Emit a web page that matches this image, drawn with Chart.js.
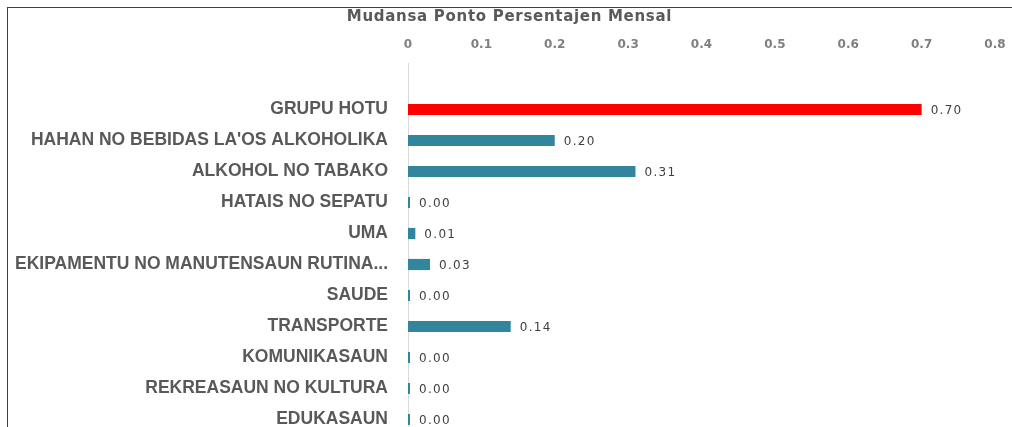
<!DOCTYPE html>
<html>
<head>
<meta charset="utf-8">
<script src="https://cdn.jsdelivr.net/npm/chart.js@4"></script>
<style>
  html, body { margin: 0; padding: 0; background: #fff; overflow: hidden; }
  #wrap { position: relative; width: 1012px; height: 436px; }
  #frame { position: absolute; left: 7px; top: 7px; width: 1100px; height: 500px;
           border-left: 1px solid #404040; border-top: 1px solid #404040; pointer-events: none; }
</style>
</head>
<body>
<div id="wrap">
  <canvas id="chart" width="1012" height="436"></canvas>
  <div id="frame"></div>
</div>
<script>
// 카테고리 (첫 줄은 빈 행)
const categories = [
  '',
  'GRUPU HOTU',
  "HAHAN NO BEBIDAS LA'OS ALKOHOLIKA",
  'ALKOHOL NO TABAKO',
  'HATAIS NO SEPATU',
  'UMA',
  'EKIPAMENTU NO MANUTENSAUN RUTINA...',
  'SAUDE',
  'TRANSPORTE',
  'KOMUNIKASAUN',
  'REKREASAUN NO KULTURA',
  'EDUKASAUN',
];
const values = [null, 0.70, 0.20, 0.31, 0.00, 0.01, 0.03, 0.00, 0.14, 0.00, 0.00, 0.00];
const xTicks = [0, 0.1, 0.2, 0.3, 0.4, 0.5, 0.6, 0.7, 0.8];
const chartTitle = 'Mudansa Ponto Persentajen Mensal';

const RED = '#ff0000';
const TEAL = '#31859c';

// 제목, x축 눈금 자간 넓히기
function spaced(box, ctx, px) {
  if (!box || box._spaced) return;
  const orig = box.draw.bind(box);
  box.draw = (area) => {
    ctx.letterSpacing = px;
    orig(area);
    ctx.letterSpacing = '0px';
  };
  box._spaced = true;
}
const letterSpacing = {
  id: 'letterSpacing',
  beforeDraw(chart) {
    spaced(chart.titleBlock, chart.ctx, '0.7px');
    spaced(chart.scales.x, chart.ctx, '1px');
  },
};

// 막대 끝 값 라벨
const valueLabels = {
  id: 'valueLabels',
  afterDatasetsDraw(chart) {
    const ctx = chart.ctx;
    const meta = chart.getDatasetMeta(0);
    ctx.save();
    ctx.font = '12px "DejaVu Sans"';
    ctx.fillStyle = '#404040';
    ctx.textAlign = 'left';
    ctx.textBaseline = 'middle';
    ctx.letterSpacing = '1.3px';
    meta.data.forEach((bar, i) => {
      const v = values[i];
      if (v === null) return;
      ctx.fillText(v.toFixed(2), bar.x + 9, bar.y + 1);
    });
    ctx.letterSpacing = '0px';
    ctx.restore();
  },
};

new Chart(document.getElementById('chart'), {
  type: 'bar',
  data: {
    labels: categories,
    datasets: [{
      data: values,
      backgroundColor: values.map((v, i) => (i === 1 ? RED : TEAL)),
      barPercentage: 0.36,
      categoryPercentage: 1,
      minBarLength: 2,
    }],
  },
  options: {
    indexAxis: 'y',
    responsive: false,
    animation: false,
    layout: { padding: { left: 8, right: 1, top: 0, bottom: 1 } },
    plugins: {
      legend: { display: false },
      tooltip: { enabled: false },
      title: {
        display: true,
        text: chartTitle,
        color: '#595959',
        font: { family: 'DejaVu Sans', size: 15, weight: 'bold' },
        padding: { top: 8, bottom: 12 },
      },
    },
    scales: {
      x: {
        position: 'top',
        min: 0,
        max: 0.8,
        afterBuildTicks: (s) => { s.ticks = xTicks.map((v) => ({ value: v })); },
        afterFit: (s) => { s.height = 25; s.paddingRight = 17; },
        grid: { display: false, drawTicks: false },
        border: { display: false },
        ticks: {
          color: '#7f7f7f',
          font: { family: 'DejaVu Sans', size: 12, weight: 'bold' },
          padding: 11,
          callback: (v) => String(v),
        },
      },
      y: {
        grid: { display: false, drawTicks: false },
        border: { display: true, color: '#d9d9d9', width: 1 },
        afterFit: (s) => { s.width = 400; s.paddingTop = 0; s.paddingBottom = 0; },
        ticks: {
          color: '#595959',
          font: { family: 'Liberation Sans', size: 17.5, weight: 'bold' },
          padding: 20,
          autoSkip: false,
        },
      },
    },
  },
  plugins: [letterSpacing, valueLabels],
});
</script>
</body>
</html>
